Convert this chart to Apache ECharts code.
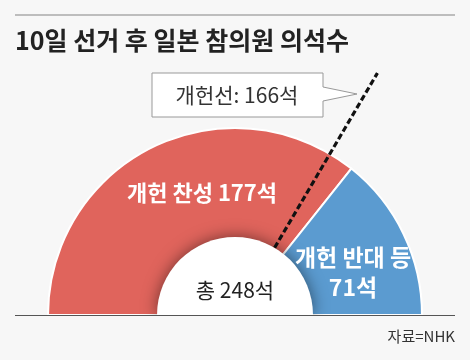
<!DOCTYPE html>
<html>
<head>
<meta charset="utf-8">
<script src="https://cdn.jsdelivr.net/npm/echarts@6/dist/echarts.min.js"></script>
<style>
html,body{margin:0;padding:0;background:#f7f7f7;}
#chart{width:470px;height:360px;}
</style>
</head>
<body>
<div id="chart"></div>
<script>
const title = '10일 선거 후 일본 참의원 의석수';
const categories = ['개헌 찬성', '개헌 반대 등'];
const seats = [177, 71];
const total = 248;
const threshold = 166;
const thresholdName = '개헌선';
const source = '자료=NHK';

const FONT = '"Noto Sans CJK KR", sans-serif';
const colors = ['#e0645c', '#5b9bd0'];
const C = [235, 315];

const chart = echarts.init(document.getElementById('chart'), null, {renderer: 'canvas'});

const pieData = categories.map((c, i) => ({
  name: c, value: seats[i], itemStyle: {color: colors[i]}
}));
pieData.push({name: 'hidden', value: total, itemStyle: {color: 'transparent', borderWidth: 0}, emphasis: {disabled: true}});

chart.setOption({
  backgroundColor: '#f7f7f7',
  animation: false,
  polar: {center: C, radius: 281},
  angleAxis: {type: 'value', min: 0, max: total * 2, startAngle: 180, clockwise: true, show: false},
  radiusAxis: {type: 'value', min: 0, max: 281, show: false},
  series: [
    {
      type: 'pie', center: C, radius: [0, 187], startAngle: 180, clockwise: true,
      data: pieData, label: {show: false}, labelLine: {show: false}, silent: true,
      itemStyle: {borderColor: '#ffffff', borderWidth: 2}, z: 2
    },
    {
      type: 'line', coordinateSystem: 'polar', data: [[78, threshold], [281, threshold]],
      symbol: 'none', silent: true, z: 3,
      lineStyle: {color: '#111', width: 3.2, type: [6, 3]}
    },
    {
      type: 'pie', center: C, radius: [0, 78], startAngle: 180, clockwise: true, silent: true, z: 4,
      label: {show: false}, labelLine: {show: false},
      data: [
        {value: 1, itemStyle: {color: '#ffffff', shadowBlur: 16, shadowColor: 'rgba(0,0,0,0.5)'}},
        {value: 1, itemStyle: {color: 'transparent'}}
      ]
    }
  ],
  graphic: [
    {type: 'rect', z: 50, shape: {x: 0, y: 316, width: 470, height: 44}, style: {fill: '#f7f7f7'}},
    {type: 'line', z: 60, shape: {x1: 15, y1: 15, x2: 455, y2: 15}, style: {stroke: '#bdbdbd', lineWidth: 2}},
    {type: 'line', z: 60, shape: {x1: 15, y1: 315.5, x2: 455, y2: 315.5}, style: {stroke: '#555', lineWidth: 1}},
    {type: 'text', z: 60, x: 15, y: 40, style: {text: title, font: 'bold 25px ' + FONT, fill: '#222', textVerticalAlign: 'middle'}},
    {type: 'text', z: 60, x: 455, y: 336, style: {text: source, font: '15px ' + FONT, fill: '#333', textAlign: 'right', textVerticalAlign: 'middle'}},
    {type: 'polygon', z: 60, shape: {points: [[152, 73], [323, 73], [323, 87], [357, 94], [323, 101], [323, 117], [152, 117]]},
      style: {fill: '#ffffff', stroke: '#999', lineWidth: 1}},
    {type: 'text', z: 61, x: 237, y: 95, style: {text: thresholdName + ': ' + threshold + '석', font: '21px ' + FONT, fill: '#333', textAlign: 'center', textVerticalAlign: 'middle'}},
    {type: 'text', z: 60, x: 202, y: 193, style: {text: categories[0] + ' ' + seats[0] + '석', font: 'bold 22px ' + FONT, fill: '#fff', textAlign: 'center', textVerticalAlign: 'middle'}},
    {type: 'text', z: 60, x: 353, y: 272, style: {text: categories[1] + '\n' + seats[1] + '석', font: 'bold 23px ' + FONT, lineHeight: 30, fill: '#fff', textAlign: 'center', textVerticalAlign: 'middle'}},
    {type: 'text', z: 60, x: 235, y: 290, style: {text: '총 ' + total + '석', font: '21px ' + FONT, fill: '#222', textAlign: 'center', textVerticalAlign: 'middle'}}
  ]
});
</script>
</body>
</html>
